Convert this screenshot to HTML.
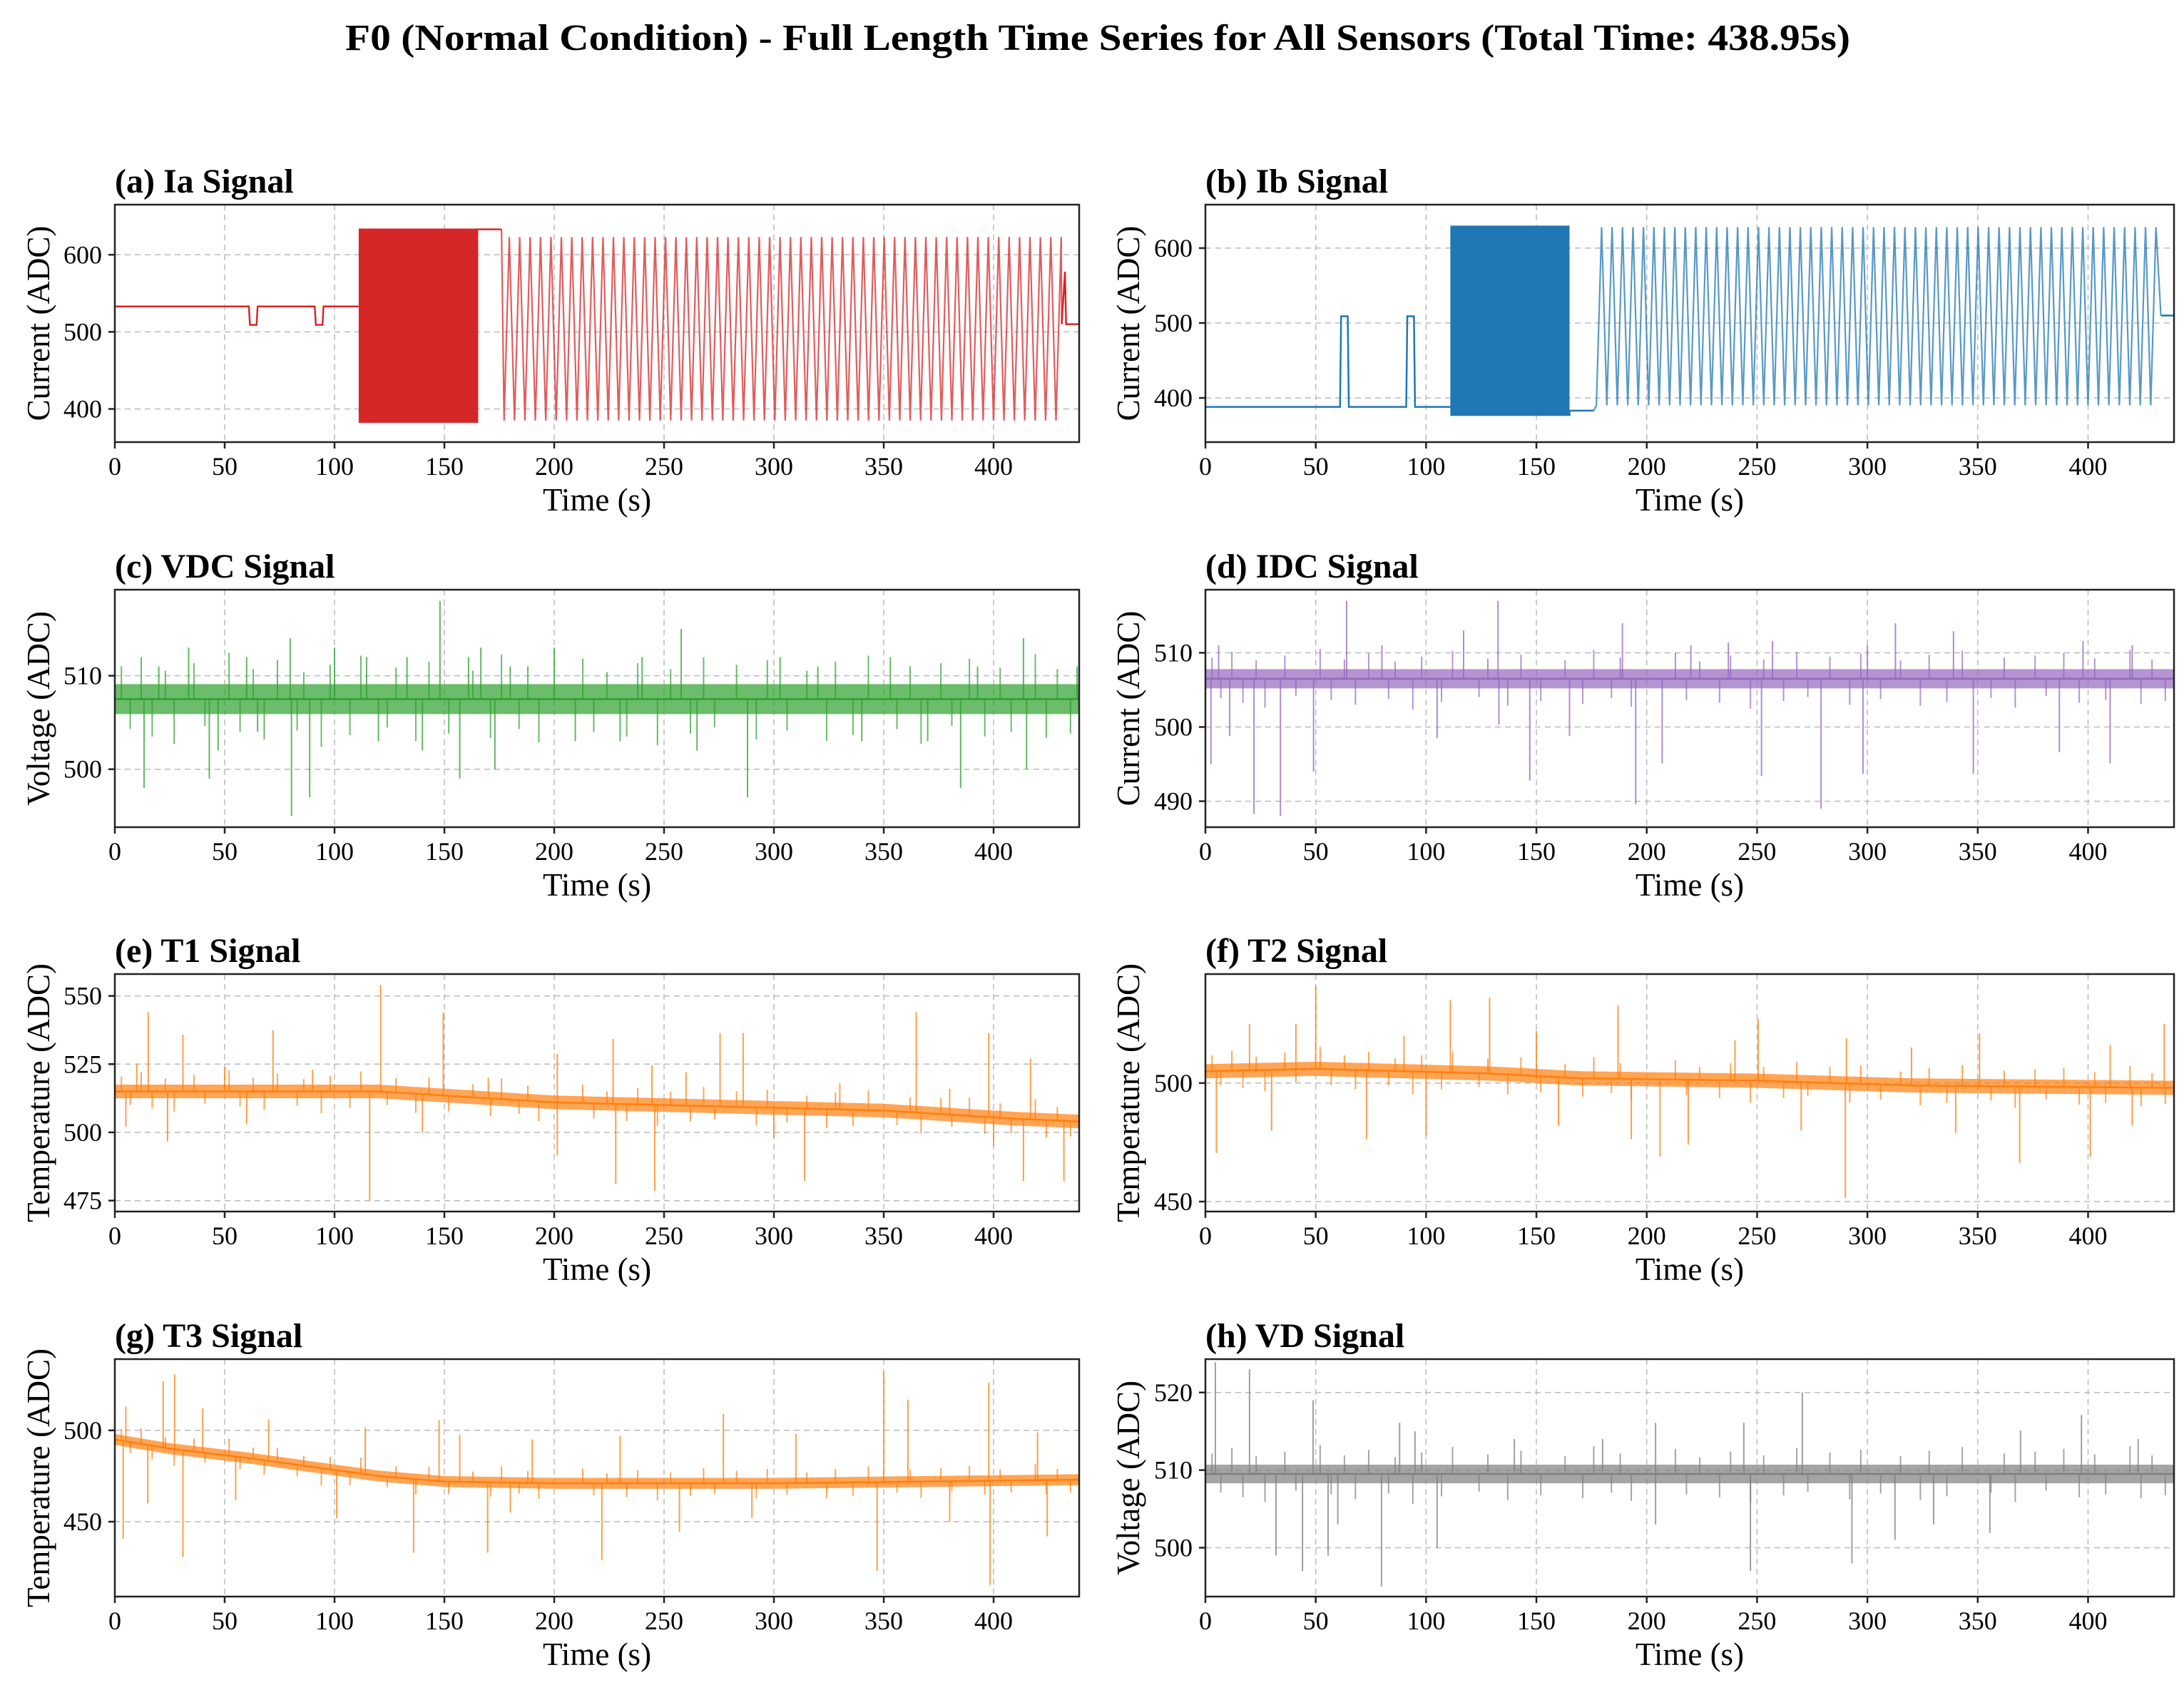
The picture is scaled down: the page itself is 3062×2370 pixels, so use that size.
<!DOCTYPE html>
<html><head><meta charset="utf-8"><style>
html,body{margin:0;padding:0;background:#fff}
svg{display:block;font-family:"Liberation Serif",serif}
</style></head><body>
<svg id="fig" width="3062" height="2370" viewBox="0 0 3062 2370" xmlns="http://www.w3.org/2000/svg">
<rect width="3062" height="2370" fill="#fff"/>
<text x="1539" y="70" text-anchor="middle" font-size="52" font-weight="bold" textLength="2110" lengthAdjust="spacingAndGlyphs">F0 (Normal Condition) - Full Length Time Series for All Sensors (Total Time: 438.95s)</text>
</svg>
<script>
const xMax = 438.95;
const xTicks = [0,50,100,150,200,250,300,350,400];

// (a) Ia
const iaBaseT = [0,61,61.5,64.5,65,91,91.5,94.5,95,111];
const iaBaseV = [533,533,509,509,533,533,509,509,533,533];
const iaBurstT = [111,165];
const iaBurstV = [382,634];
const iaFlatT = [165,176];
const iaFlatV = [633,633];
const iaOscT = [176,431];
const iaOscV = [385,623];
const iaOscPeriod = [4.74];
const iaTailT = [431,432.5,433,438.95];
const iaTailV = [510,578,510,510];

// (b) Ib
const ibBaseT = [0,61,61.5,64.5,65,91,91.5,94.5,95,111];
const ibBaseV = [388,388,509,509,388,388,509,509,388,388];
const ibBurstT = [111,165];
const ibBurstV = [376,630];
const ibFlatT = [165,176];
const ibFlatV = [383,383];
const ibOscT = [176,433];
const ibOscV = [390,628];
const ibOscPeriod = [4.74];
const ibTailT = [433,434,438.95];
const ibTailV = [510,510,510];

// minor spike offsets (shared hand-read texture pattern, in units of the panel's band)
const minorT = [3,7,12,17,23,27,36,41,52,57,63,68,74,83,86,94,98,107,112,124,128,137,143,152,163,171,176,184,188,193,213,218,224,233,238,247,253,262,268,273,283,292,297,306,315,324,328,336,343,356,362,367,376,381,389,396,403,408,419,424,429,435];
const minorK = [2.2,-2.0,2.8,-2.5,1.9,-3.0,2.4,-1.8,3.1,-2.2,2.0,-2.7,2.6,-2.1,1.8,-3.2,2.3,-2.4,2.9,-1.9,2.1,-2.8,2.5,-2.3,1.9,-2.6,3.0,-2.0,2.2,-2.9,2.7,-2.2,1.8,-2.5,2.4,-3.1,2.0,-2.3,2.8,-1.9,2.3,-2.7,2.6,-2.1,1.9,-2.8,2.5,-2.4,2.9,-2.0,2.2,-3.0,2.4,-1.8,2.7,-2.5,2.1,-2.2,3.0,-2.6,2.0,-2.3];

// (c) VDC
const vdcTrendT = [0,438.95]; const vdcTrendV = [507.5,507.5]; const vdcBand = [1.6];
const vdcSpikeT = [33.6,79.8,100,114.6,133,148,161,166.6,200,257.8,302.8,353,392.7,413.6,438,13.3,43,80.4,88.7,157,173,209.6,288,385,415,47,65,265,20,120,180,230,320,370,60,140,240,340];
const vdcSpikeV = [513,514,513,512,512,518,512,513,513,515,512,512,511,514,511,498,499,495,497,499,500,503,497,498,500,502,504,502,511,503,511,503,511,503,512,502,512,503];

// (d) IDC
const idcTrendT = [0,438.95]; const idcTrendV = [506.5,506.5]; const idcBand = [1.3];
const idcSpikeT = [64,132.6,189,237,312.7,339,397.7,117,257,2.5,11,22,34,49,147,195,207,252,279,298,348,387,410,105,133,165,6,80,220,300,420];
const idcSpikeV = [517,517,514,511.4,514,512.9,511.6,513,511.6,495,498.8,488.3,488,494,492.8,489.6,495.1,493.4,489,493.7,493.7,496.6,495.1,498.5,500.3,498.8,511,511,511,511,511];

// (e) T1
const t1TrendT = [0,120,200,300,350,410,438.95]; const t1TrendV = [515,515,511,509,508,505,504]; const t1Band = [2.5];
const t1SpikeT = [15.2,31,72,121,149.5,201.4,226.8,244.5,275.5,286,364.8,397.8,416.8,116,228,245.8,314,413.6,432,201.4,24,10,50,90,170,260,330,380,5,60,140,300,400];
const t1SpikeV = [544,535.8,537.4,554,544,528.7,534.3,524.6,536.4,536.4,544,536.4,527,475,481,478.6,482.2,482.2,482.2,491.5,496.6,525,524,523,520,522,518,516,502,503,500,498,495];

// (f) T2
const t2TrendT = [0,50,130,170,250,320,438.95]; const t2TrendV = [505,506,504,502,501,499,498]; const t2Band = [3];
const t2SpikeT = [50,41,111,128.8,187,250.5,290.5,350.8,434.5,290,5,73,218.8,206,369,401,193,20,90,150,240,320,410,30,100,160,270,340,420];
const t2SpikeV = [541,525,535,536,532.8,527,519,521,525,451.6,470.5,476.3,474,469,466.3,469,476.3,525,520,522,518,515,516,480,478,482,480,479,482];

// (g) T3
const t3TrendT = [0,25,60,90,120,150,200,300,438.95]; const t3TrendV = [495,490,485,480,475,472,471,471,473]; const t3Band = [3];
const t3SpikeT = [27.2,22,5,147.6,157,277,350,397.8,361,114,3.8,31,101,136,169.7,221.7,347,398.4,424.4,257,40,70,190,230,310,420,15,55,180,290,380];
const t3SpikeV = [530.6,527,513,505.5,497.8,509,532,526,516.8,501.6,440.6,430.7,452,433,433,429,423,415.4,442,444.5,512,506,495,497,498,499,460,462,455,452,450];

// (h) VD
const vdTrendT = [0,438.95]; const vdTrendV = [509.5,509.5]; const vdBand = [1.2];
const vdSpikeT = [4.5,20,48.8,270.5,88,204,244,397,369.4,422.7,95,79.8,44,247,293,32,105,312.5,355.5,55.6,204,140,180,60,330];
const vdSpikeV = [523.9,523,519,520,516.1,516.1,516.1,517.1,515.1,514,515,495,497,497,498,499,500,501,501.9,499,503,514,514,503,503];

const NS = "http://www.w3.org/2000/svg";
const svg = document.getElementById('fig');
function el(tag, attrs, parent){ const e=document.createElementNS(NS,tag); for(const k in attrs) e.setAttribute(k,attrs[k]); (parent||svg).appendChild(e); return e; }

const rowTop = [287,827,1366,1906], axH = 333;
const colLeft = [161,1690], colW = [1352,1358], ylabX = [54,1582];

function makeAxes(name, col, row, ymin, ymax, yticks, ylabel, title){
  const x0=colLeft[col], w=colW[col], y0=rowTop[row], h=axH;
  const sx = t => x0 + t/xMax*w;
  const sy = v => y0 + h - (v-ymin)/(ymax-ymin)*h;
  const g = el('g',{});
  
  
  const grid = el('g',{},g);
  
  
  xTicks.forEach(t=>{ el('line',{x1:sx(t),x2:sx(t),y1:y0,y2:y0+h,stroke:'#bbb','stroke-width':1.5,'stroke-dasharray':'8,6'},grid); });
  yticks.forEach(v=>{ el('line',{x1:x0,x2:x0+w,y1:sy(v),y2:sy(v),stroke:'#bbb','stroke-width':1.5,'stroke-dasharray':'8,6'},grid); });
  const clipId='clip-'+name;
  const cp = el('clipPath',{id:clipId},g); el('rect',{x:x0,y:y0,width:w,height:h},cp);
  const plot = el('g',{'clip-path':'url(#'+clipId+')'},g);
  
  
  const after = () => {
    const fr = el('rect',{x:x0,y:y0,width:w,height:h,fill:'none',stroke:'#222','stroke-width':2.5},g);
    
    
    xTicks.forEach(t=>{
      el('line',{x1:sx(t),x2:sx(t),y1:y0+h,y2:y0+h+9,stroke:'#222','stroke-width':2.5},g);
      const tx = el('text',{x:sx(t),y:y0+h+46,'text-anchor':'middle','font-size':36},g); tx.textContent=t;
      
      
    });
    yticks.forEach(v=>{
      el('line',{x1:x0-9,x2:x0,y1:sy(v),y2:sy(v),stroke:'#222','stroke-width':2.5},g);
      const ty = el('text',{x:x0-18,y:sy(v)+12,'text-anchor':'end','font-size':36},g); ty.textContent=v;
      
      
    });
    const xl = el('text',{x:x0+w/2,y:y0+h+96,'text-anchor':'middle','font-size':45},g); xl.textContent='Time (s)';
    
    
    const yl = el('text',{x:0,y:0,'text-anchor':'middle','font-size':45,transform:`translate(${ylabX[col]+15},${y0+h/2}) rotate(-90)`},g); yl.textContent=ylabel;
    
    
    const tt = el('text',{x:x0,y:y0-17,'font-size':48,'font-weight':'bold'},g); tt.textContent=title;
    
    
  };
  return {sx,sy,plot,after};
}

function poly(ax, T, V, color, width, op){
  return el('polyline',{points:T.map((t,i)=>ax.sx(t)+','+ax.sy(V[i])).join(' '),fill:'none',stroke:color,'stroke-width':width,'stroke-opacity':op||1,'stroke-linejoin':'miter'},ax.plot);
}

function switching(ax, baseT, baseV, burstT, burstV, flatT, flatV, oscT, oscV, period, tailT, tailV, color){
  poly(ax, baseT, baseV, color, 2.5);
  el('rect',{x:ax.sx(burstT[0]),y:ax.sy(burstV[1]),width:ax.sx(burstT[1])-ax.sx(burstT[0]),height:ax.sy(burstV[0])-ax.sy(burstV[1]),fill:color},ax.plot);
  poly(ax, [burstT[1],flatT[0],flatT[1]], [burstV[0],flatV[0],flatV[1]], color, 2.5);
  const T=[flatT[1]], V=[flatV[1]];
  let k=0;
  for(let t=oscT[0]+period[0]/4; t<oscT[1]; t+=period[0]/2){ T.push(t); V.push(k%2===0?oscV[0]:oscV[1]); k++; }
  T.push(oscT[1]); V.push(tailV[0]);
  poly(ax, T, V, color, 2.2, 0.75);
  poly(ax, tailT, tailV, color, 2.5);
}

function interp(T,V,t){ for(let i=0;i<T.length-1;i++){ if(t<=T[i+1]){ const f=(t-T[i])/(T[i+1]-T[i]); return V[i]+f*(V[i+1]-V[i]); } } return V[V.length-1]; }

function noisy(ax, trendT, trendV, band, spikeT, spikeV, color){
  const ts=[]; for(let t=0;t<=xMax;t+=2) ts.push(t); ts.push(xMax);
  const up = ts.map(t=>ax.sx(t)+','+ax.sy(interp(trendT,trendV,t)+band[0]));
  const dn = ts.slice().reverse().map(t=>ax.sx(t)+','+ax.sy(interp(trendT,trendV,t)-band[0]));
  el('polygon',{points:up.concat(dn).join(' '),fill:color,'fill-opacity':0.7},ax.plot);
  minorT.forEach((t,i)=>{
    const base = interp(trendT,trendV,t);
    const m = el('line',{x1:ax.sx(t),x2:ax.sx(t),y1:ax.sy(base),y2:ax.sy(base+minorK[i]*band[0]),stroke:color,'stroke-width':2,'stroke-opacity':0.7},ax.plot);
    
    
  });
  spikeT.forEach((t,i)=>{
    const s = el('line',{x1:ax.sx(t),x2:ax.sx(t),y1:ax.sy(interp(trendT,trendV,t)),y2:ax.sy(spikeV[i]),stroke:color,'stroke-width':2,'stroke-opacity':0.75},ax.plot);
    
    
  });
  poly(ax, trendT, trendV, color, 2.5);
}

let ax;
ax = makeAxes('ia',0,0,357,665,[400,500,600],'Current (ADC)','(a) Ia Signal');
switching(ax, iaBaseT, iaBaseV, iaBurstT, iaBurstV, iaFlatT, iaFlatV, iaOscT, iaOscV, iaOscPeriod, iaTailT, iaTailV, '#d62728'); ax.after();
ax = makeAxes('ib',1,0,341,658,[400,500,600],'Current (ADC)','(b) Ib Signal');
switching(ax, ibBaseT, ibBaseV, ibBurstT, ibBurstV, ibFlatT, ibFlatV, ibOscT, ibOscV, ibOscPeriod, ibTailT, ibTailV, '#1f77b4'); ax.after();
ax = makeAxes('vdc',0,1,493.8,519.2,[500,510],'Voltage (ADC)','(c) VDC Signal');
noisy(ax, vdcTrendT, vdcTrendV, vdcBand, vdcSpikeT, vdcSpikeV, '#2ca02c'); ax.after();
ax = makeAxes('idc',1,1,486.5,518.5,[490,500,510],'Current (ADC)','(d) IDC Signal');
noisy(ax, idcTrendT, idcTrendV, idcBand, idcSpikeT, idcSpikeV, '#9467bd'); ax.after();
ax = makeAxes('t1',0,2,471,558,[475,500,525,550],'Temperature (ADC)','(e) T1 Signal');
noisy(ax, t1TrendT, t1TrendV, t1Band, t1SpikeT, t1SpikeV, '#ff7f0e'); ax.after();
ax = makeAxes('t2',1,2,445.8,546,[450,500],'Temperature (ADC)','(f) T2 Signal');
noisy(ax, t2TrendT, t2TrendV, t2Band, t2SpikeT, t2SpikeV, '#ff7f0e'); ax.after();
ax = makeAxes('t3',0,3,409,539,[450,500],'Temperature (ADC)','(g) T3 Signal');
noisy(ax, t3TrendT, t3TrendV, t3Band, t3SpikeT, t3SpikeV, '#ff7f0e'); ax.after();
ax = makeAxes('vd',1,3,493.7,524.3,[500,510,520],'Voltage (ADC)','(h) VD Signal');
noisy(ax, vdTrendT, vdTrendV, vdBand, vdSpikeT, vdSpikeV, '#7f7f7f'); ax.after();
</script>
</body></html>
